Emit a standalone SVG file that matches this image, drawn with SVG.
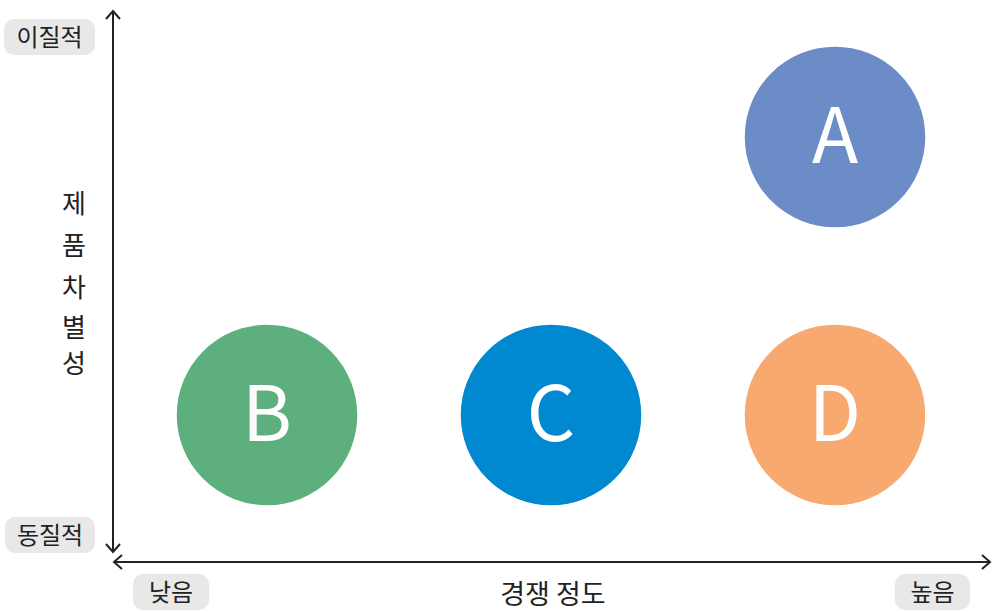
<svg xmlns="http://www.w3.org/2000/svg" width="992" height="612" viewBox="0 0 992 612">
<style>
.lbl{font-family:"Noto Sans CJK KR","Noto Sans",sans-serif;fill:#222;}
.tag{fill:#e8e8e8;}
.node circle{stroke:#ffffff;stroke-width:1.5;}
.node text{font-family:"Noto Sans CJK KR","Noto Sans",sans-serif;font-size:76px;fill:#ffffff;text-anchor:middle;}
.axis{stroke:#222;stroke-width:2;fill:none;}
</style>
<g id="connectors">
<line class="axis" x1="113" y1="11" x2="113" y2="552"/>
<polyline class="axis" points="106,19 113,11 120,19"/>
<polyline class="axis" points="106,544 113,552 120,544"/>
<line class="axis" x1="114" y1="562" x2="990" y2="562"/>
<polyline class="axis" points="122,555 114,562 122,569"/>
<polyline class="axis" points="982,555 990,562 982,569"/>
</g>
<g id="tag-top"><rect class="tag" x="4" y="19" width="91" height="36" rx="10"/><text class="lbl" x="49.5" y="46" font-size="24" text-anchor="middle">이질적</text></g>
<g id="tag-bottom"><rect class="tag" x="5" y="517" width="90" height="36" rx="10"/><text class="lbl" x="50" y="544" font-size="24" text-anchor="middle">동질적</text></g>
<g id="tag-low"><rect class="tag" x="133" y="574" width="76" height="36" rx="10"/><text class="lbl" x="171" y="601" font-size="24" text-anchor="middle">낮음</text></g>
<g id="tag-high"><rect class="tag" x="895" y="574" width="75" height="36" rx="10"/><text class="lbl" x="932.5" y="601" font-size="24" text-anchor="middle">높음</text></g>
<g id="y-title" class="lbl" font-size="26" text-anchor="middle">
<text x="74" y="213">제</text>
<text x="74" y="255">품</text>
<text x="74" y="297">차</text>
<text x="74" y="337">별</text>
<text x="74" y="373">성</text>
</g>
<g id="x-title"><text class="lbl" x="553" y="604" font-size="27" text-anchor="middle">경쟁 정도</text></g>
<g id="node-A" class="node"><circle cx="835" cy="137" r="91" fill="#6b8cc7"/><text x="835" y="163">A</text></g>
<g id="node-B" class="node"><circle cx="267" cy="415" r="91" fill="#5db07e"/><text x="267" y="441">B</text></g>
<g id="node-C" class="node"><circle cx="551" cy="415" r="91" fill="#0088d0"/><text x="551" y="441">C</text></g>
<g id="node-D" class="node"><circle cx="835" cy="415" r="91" fill="#f8a96f"/><text x="835" y="441">D</text></g>
</svg>
